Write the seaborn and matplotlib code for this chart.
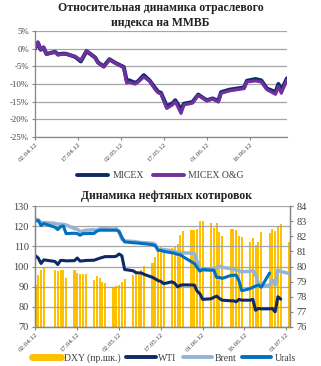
import matplotlib
matplotlib.use("Agg")
import matplotlib.pyplot as plt
import matplotlib.dates as mdates
from matplotlib.lines import Line2D
import seaborn as sns
import pandas as pd
import numpy as np

# ---------------- data: top chart ----------------
top_dates = ["2012-04-02", "2012-04-03", "2012-04-04", "2012-04-05", "2012-04-06", "2012-04-09",
             "2012-04-10", "2012-04-12", "2012-04-13", "2012-04-16", "2012-04-18", "2012-04-20",
             "2012-04-23", "2012-04-24", "2012-04-26", "2012-04-28", "2012-04-30", "2012-05-03",
             "2012-05-04", "2012-05-05", "2012-05-07", "2012-05-08", "2012-05-10", "2012-05-12",
             "2012-05-14", "2012-05-15", "2012-05-16", "2012-05-18", "2012-05-20", "2012-05-21",
             "2012-05-23", "2012-05-24", "2012-05-27", "2012-05-29", "2012-05-31", "2012-06-01",
             "2012-06-03", "2012-06-05", "2012-06-06", "2012-06-09", "2012-06-14", "2012-06-15",
             "2012-06-18", "2012-06-20", "2012-06-22", "2012-06-25", "2012-06-26", "2012-06-27",
             "2012-06-29"]
micex_og = [0.0, 1.9, -0.2, 0.5, -1.6, -0.9, -1.8, -1.5, -1.5, -2.2, -3.3, -0.5,
            -2.6, -4.0, -5.2, -3.1, -4.0, -5.4, -9.7, -9.5, -10.0, -9.4, -8.0, -9.2,
            -11.6, -12.5, -12.8, -16.9, -15.9, -15.0, -18.3, -15.9, -15.4, -13.2, -14.2, -14.8,
            -14.2, -15.1, -12.6, -11.9, -11.3, -9.4, -9.1, -9.4, -11.6, -12.9, -10.7, -12.6,
            -8.8]
micex = [0.0, 1.7, -0.3, 0.3, -1.5, -0.9, -1.6, -1.4, -1.5, -2.3, -3.6, -0.7,
         -2.5, -3.9, -5.0, -3.0, -4.0, -5.2, -9.0, -9.0, -9.7, -9.2, -7.5, -9.0,
         -11.2, -12.2, -12.5, -16.3, -15.5, -14.6, -17.2, -15.6, -15.1, -13.0, -14.1, -14.6,
         -14.1, -14.8, -12.3, -11.6, -11.0, -9.1, -8.6, -9.0, -11.3, -12.3, -10.0, -11.8,
         -8.4]

# ---------------- data: bottom chart ----------------
dxy_dates = ["2012-04-02", "2012-04-03", "2012-04-04", "2012-04-05",
             "2012-04-09", "2012-04-10", "2012-04-11", "2012-04-12", "2012-04-13",
             "2012-04-16", "2012-04-17", "2012-04-18", "2012-04-19", "2012-04-20",
             "2012-04-23", "2012-04-24", "2012-04-25", "2012-04-26", "2012-04-27",
             "2012-04-30", "2012-05-01", "2012-05-02", "2012-05-03", "2012-05-04",
             "2012-05-07", "2012-05-08", "2012-05-09", "2012-05-10", "2012-05-11",
             "2012-05-14", "2012-05-15", "2012-05-16", "2012-05-17", "2012-05-18",
             "2012-05-21", "2012-05-22", "2012-05-23", "2012-05-24", "2012-05-25",
             "2012-05-28", "2012-05-29", "2012-05-30", "2012-05-31", "2012-06-01",
             "2012-06-04", "2012-06-05", "2012-06-06", "2012-06-07", "2012-06-08",
             "2012-06-11", "2012-06-12", "2012-06-13", "2012-06-14", "2012-06-15",
             "2012-06-18", "2012-06-19", "2012-06-20", "2012-06-21", "2012-06-22",
             "2012-06-25", "2012-06-26", "2012-06-27", "2012-06-28", "2012-06-29",
             "2012-07-02"]
dxy = [78.8, 79.45, 79.75, 80.0,
       79.8, 79.7, 79.8, 79.75, 79.25,
       79.8, 79.55, 79.5, 79.5, 79.5,
       79.1, 79.4, 79.25, 79.0, 78.9,
       78.65, 78.7, 78.8, 79.0, 79.2,
       79.45, 79.5, 79.45, 79.75, 80.05,
       80.25, 80.6, 81.05, 81.3, 81.25,
       81.25, 81.3, 81.5, 82.1, 82.35,
       82.4, 82.4, 82.45, 83.0, 83.0,
       82.9, 82.55, 82.85, 82.25, 82.0,
       82.5, 82.5, 82.4, 82.0, 81.95,
       81.6, 81.9, 81.4, 81.6, 82.25,
       82.2, 82.45, 82.35, 82.6, 82.8,
       81.6]

wti_dates = ["2012-04-02", "2012-04-03", "2012-04-04", "2012-04-05",
             "2012-04-09", "2012-04-10", "2012-04-11", "2012-04-12", "2012-04-13",
             "2012-04-16", "2012-04-17", "2012-04-18", "2012-04-19", "2012-04-20",
             "2012-04-23", "2012-04-24", "2012-04-25", "2012-04-26", "2012-04-27",
             "2012-04-30", "2012-05-01", "2012-05-02", "2012-05-03", "2012-05-04",
             "2012-05-07", "2012-05-08", "2012-05-09", "2012-05-10", "2012-05-11",
             "2012-05-14", "2012-05-15", "2012-05-16", "2012-05-17", "2012-05-18",
             "2012-05-21", "2012-05-22", "2012-05-23", "2012-05-24", "2012-05-25",
             "2012-05-29", "2012-05-30", "2012-05-31", "2012-06-01",
             "2012-06-04", "2012-06-05", "2012-06-06", "2012-06-07", "2012-06-08",
             "2012-06-11", "2012-06-12", "2012-06-13", "2012-06-14", "2012-06-15",
             "2012-06-18", "2012-06-19", "2012-06-20", "2012-06-21", "2012-06-22",
             "2012-06-25", "2012-06-26", "2012-06-27", "2012-06-28", "2012-06-29"]
wti = [105.3, 104.2, 101.5, 103.3,
       102.5, 101.0, 103.0, 103.0, 102.8,
       102.9, 104.2, 102.7, 102.8, 103.0,
       103.1, 103.6, 104.1, 104.5, 104.9,
       104.9, 105.1, 106.2, 105.3, 98.5,
       97.9, 97.0, 96.8, 96.8, 96.1,
       94.6, 93.9, 93.0, 92.6, 91.5,
       92.4, 91.6, 89.9, 90.7, 90.9,
       90.8, 87.8, 86.5, 83.7,
       84.0, 84.7, 85.3, 84.2, 83.3,
       83.0, 83.0, 82.5, 83.7, 83.3,
       83.3, 83.7, 78.3, 79.2, 79.0,
       79.0, 79.2, 77.5, 85.0, 83.8]

brent_dates = ["2012-04-02", "2012-04-03", "2012-04-04", "2012-04-05",
               "2012-04-09", "2012-04-10", "2012-04-11", "2012-04-12", "2012-04-13",
               "2012-04-16", "2012-04-17", "2012-04-18", "2012-04-19", "2012-04-20",
               "2012-04-23", "2012-04-24", "2012-04-25", "2012-04-26", "2012-04-27",
               "2012-04-30", "2012-05-01", "2012-05-02", "2012-05-03", "2012-05-04",
               "2012-05-07", "2012-05-08", "2012-05-09", "2012-05-10", "2012-05-11",
               "2012-05-14", "2012-05-15", "2012-05-16", "2012-05-17", "2012-05-18",
               "2012-05-21", "2012-05-22", "2012-05-23", "2012-05-24", "2012-05-25",
               "2012-05-28", "2012-05-29", "2012-05-30", "2012-05-31", "2012-06-01",
               "2012-06-04", "2012-06-05", "2012-06-06", "2012-06-07", "2012-06-08",
               "2012-06-11", "2012-06-12", "2012-06-13", "2012-06-14", "2012-06-15",
               "2012-06-18", "2012-06-19", "2012-06-20", "2012-06-21", "2012-06-22",
               "2012-06-25", "2012-06-26", "2012-06-27", "2012-06-28", "2012-06-29",
               "2012-07-02"]
brent = [123.4, 123.2, 121.8, 121.8,
         121.4, 121.0, 121.0, 120.9, 120.6,
         118.8, 118.5, 117.3, 117.6, 118.0,
         118.2, 118.0, 118.6, 118.8, 118.8,
         118.5, 118.8, 116.9, 113.5, 112.7,
         112.4, 112.3, 112.0, 111.9, 111.8,
         111.5, 111.0, 108.5, 108.0, 108.4,
         107.8, 107.5, 106.9, 106.8, 106.8,
         106.6, 106.4, 102.3, 99.0, 98.2,
         98.3, 98.5, 99.5, 100.2, 99.6,
         99.0, 98.6, 98.2, 97.8, 97.4,
         97.6, 97.9, 96.0, 91.6, 90.3,
         90.8, 93.3, 90.8, 98.2, 97.5,
         96.6]

urals_dates = ["2012-04-02", "2012-04-03", "2012-04-04", "2012-04-05",
               "2012-04-09", "2012-04-10", "2012-04-11", "2012-04-12", "2012-04-13",
               "2012-04-16", "2012-04-17", "2012-04-18", "2012-04-19", "2012-04-20",
               "2012-04-23", "2012-04-24", "2012-04-25", "2012-04-26", "2012-04-27",
               "2012-04-30", "2012-05-01", "2012-05-02", "2012-05-03", "2012-05-04",
               "2012-05-07", "2012-05-08", "2012-05-09", "2012-05-10", "2012-05-11",
               "2012-05-14", "2012-05-15", "2012-05-16", "2012-05-17", "2012-05-18",
               "2012-05-21", "2012-05-22", "2012-05-23", "2012-05-24", "2012-05-25",
               "2012-05-29", "2012-05-30", "2012-05-31", "2012-06-01",
               "2012-06-04", "2012-06-05", "2012-06-06", "2012-06-07", "2012-06-08",
               "2012-06-11", "2012-06-12", "2012-06-13", "2012-06-14", "2012-06-15",
               "2012-06-18", "2012-06-19", "2012-06-20", "2012-06-21", "2012-06-22",
               "2012-06-25"]
urals = [122.6, 122.8, 120.3, 121.3,
         119.5, 118.3, 119.8, 120.1, 116.3,
         116.5, 116.3, 115.5, 116.3, 116.3,
         116.4, 117.5, 118.0, 118.0, 118.0,
         118.0, 118.0, 117.5, 114.5, 112.2,
         111.8, 111.7, 111.6, 111.4, 111.3,
         110.8, 110.3, 108.0, 108.0, 107.5,
         106.8, 106.5, 106.0, 105.8, 104.8,
         101.5, 99.5, 97.7, 98.5,
         98.2, 98.2, 94.6, 94.6, 94.1,
         95.5, 95.6, 95.8, 93.0, 88.0,
         89.0, 89.7, 90.3, 90.8, 89.7,
         96.7]

top_title = "Относительная динамика отраслевого\nиндекса на ММВБ"
bottom_title = "Динамика нефтяных котировок"
top_yticks = [5, 0, -5, -10, -15, -20, -25]
left_yticks = [70, 80, 90, 100, 110, 120, 130]
right_yticks = [76, 77, 78, 79, 80, 81, 82, 83, 84]

# ---------------- style ----------------
sns.set_theme(style="white")
plt.rcParams["font.family"] = ["Liberation Serif", "DejaVu Serif"]

NAVY = "#0E2A66"
PURPLE = "#7030A0"
LBLUE = "#95B3D7"
BLUE = "#0070C0"
GOLD = "#FFC000"
GRID = "#A6A6A6"
TXT = "#404040"
SPINE = "#868686"

fig = plt.figure(figsize=(3.21, 3.66), dpi=100)

# ---- top chart ----
ax = fig.add_axes([35 / 321, 1 - 137 / 366, (287 - 35) / 321, (137 - 31) / 366])
df_top = pd.DataFrame({"date": pd.to_datetime(top_dates), "MICEX": micex, "MICEX O&G": micex_og})
sns.lineplot(data=df_top, x="date", y="MICEX", ax=ax, color=NAVY, lw=2.9, estimator=None)
sns.lineplot(data=df_top, x="date", y="MICEX O&G", ax=ax, color=PURPLE, lw=2.3, estimator=None)
ax.set_xlim(pd.Timestamp("2012-04-02"), pd.Timestamp("2012-06-29"))
ax.set_ylim(-25, 5)
ax.set_yticks(top_yticks)
ax.set_yticklabels([f"{v}%" for v in top_yticks])
ax.set_xticks(pd.date_range("2012-04-02", periods=6, freq="15D"))
ax.xaxis.set_major_formatter(mdates.DateFormatter("%d.%m.%y"))
ax.grid(axis="y", color=GRID, lw=0.9)
ax.grid(axis="x", visible=False)
for s in ["top", "right"]:
    ax.spines[s].set_visible(False)
for s in ["left", "bottom"]:
    ax.spines[s].set_color(SPINE)
    ax.spines[s].set_linewidth(0.9)
ax.tick_params(axis="y", labelsize=6.3, colors=TXT, length=2.5, width=0.8, pad=2, left=True, color=SPINE)
ax.tick_params(axis="x", labelsize=5, colors=TXT, length=2.5, width=0.8, pad=1, bottom=True, color=SPINE)
for lab in ax.get_xticklabels():
    lab.set_rotation(45)
    lab.set_ha("right")
    lab.set_rotation_mode("anchor")
ax.set_xlabel("")
ax.set_ylabel("")
fig.text(0.5, 1 - 15.5 / 366, top_title, ha="center", va="center", fontsize=8.5, fontweight="bold",
         color="#222222", linespacing=1.25)
h_top = [Line2D([], [], color=NAVY, lw=2.8), Line2D([], [], color=PURPLE, lw=2.8)]
fig.legend(h_top, ["MICEX", "MICEX O&G"], loc="center", bbox_to_anchor=(0.5, 1 - 176 / 366),
           ncol=2, frameon=False, fontsize=7, handlelength=3.2, columnspacing=1.0, handletextpad=0.4,
           labelcolor=TXT)

# ---- bottom chart ----
ax1 = fig.add_axes([35 / 321, 1 - 327 / 366, (290 - 35) / 321, (327 - 206) / 366])
ax2 = ax1.twinx()
ax2.bar(pd.to_datetime(dxy_dates), dxy, width=0.75, color=GOLD, linewidth=0, zorder=2)
ax2.set_ylim(76, 84)
ax2.set_yticks(right_yticks)
ax1.set_zorder(ax2.get_zorder() + 1)
ax1.patch.set_visible(False)

df_w = pd.DataFrame({"date": pd.to_datetime(wti_dates), "v": wti})
df_b = pd.DataFrame({"date": pd.to_datetime(brent_dates), "v": brent})
df_u = pd.DataFrame({"date": pd.to_datetime(urals_dates), "v": urals})
sns.lineplot(data=df_b, x="date", y="v", ax=ax1, color=LBLUE, lw=2.5, estimator=None)
sns.lineplot(data=df_u, x="date", y="v", ax=ax1, color=BLUE, lw=2.2, estimator=None)
sns.lineplot(data=df_w, x="date", y="v", ax=ax1, color=NAVY, lw=2.2, estimator=None)
ax1.set_xlim(pd.Timestamp("2012-04-02") - pd.Timedelta(hours=4), pd.Timestamp("2012-07-02") + pd.Timedelta(hours=8))
ax1.set_ylim(70, 130)
ax1.set_yticks(left_yticks)
ax1.set_xticks(pd.date_range("2012-04-02", periods=7, freq="15D"))
ax1.xaxis.set_major_formatter(mdates.DateFormatter("%d.%m.%y"))
ax1.grid(axis="y", color=GRID, lw=0.9)
ax1.grid(axis="x", visible=False)
ax1.set_xlabel("")
ax1.set_ylabel("")
ax2.set_ylabel("")
for a in (ax1, ax2):
    a.spines["top"].set_visible(False)
    for s in ["left", "bottom", "right"]:
        a.spines[s].set_color(SPINE)
        a.spines[s].set_linewidth(0.9)
ax1.tick_params(axis="y", labelsize=7.5, colors=TXT, length=2.5, width=0.8, pad=2, left=True, color=SPINE)
ax2.tick_params(axis="y", labelsize=7.5, colors=TXT, length=2.5, width=0.8, pad=2, right=True, color=SPINE)
ax1.tick_params(axis="x", labelsize=5, colors=TXT, length=2.5, width=0.8, pad=1, bottom=True, color=SPINE)
for lab in ax1.get_xticklabels():
    lab.set_rotation(45)
    lab.set_ha("right")
    lab.set_rotation_mode("anchor")
fig.text(0.52, 1 - 196 / 366, bottom_title, ha="center", va="center", fontsize=8.5, fontweight="bold",
         color="#222222")
h_bot = [Line2D([], [], color=GOLD, lw=5), Line2D([], [], color=NAVY, lw=2.8),
         Line2D([], [], color=LBLUE, lw=2.8), Line2D([], [], color=BLUE, lw=2.8)]
fig.legend(h_bot, ["DXY (пр.шк.)", "WTI", "Brent", "Urals"], loc="center",
           bbox_to_anchor=(0.51, 1 - 358 / 366), ncol=4, frameon=False, fontsize=7,
           handlelength=3.0, columnspacing=0.6, handletextpad=0.3, labelcolor=TXT)

fig.savefig("out.png", dpi=100)
